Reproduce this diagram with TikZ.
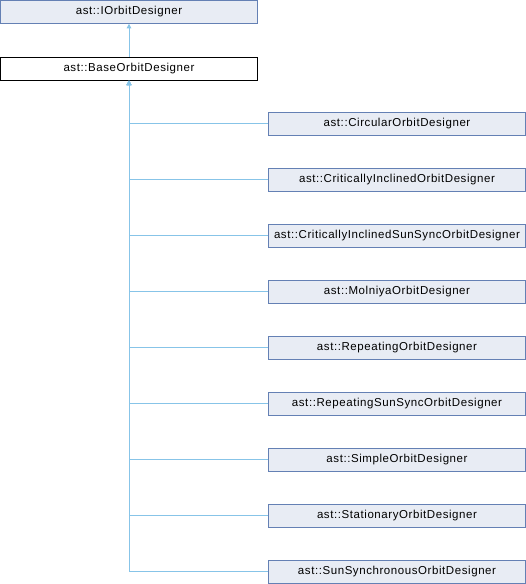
\documentclass[tikz,border=0pt]{standalone}
\usepackage{fontspec}
\setmainfont{Liberation Sans}[LetterSpace=5]
\usetikzlibrary{arrows.meta}
\definecolor{boxfill}{RGB}{232,236,244}
\definecolor{boxdraw}{RGB}{100,128,180}
\definecolor{edgecol}{RGB}{135,196,232}
\tikzset{
  cls/.style={draw=boxdraw, fill=boxfill, line width=1pt, minimum width=257pt, minimum height=23pt, inner sep=0pt, font=\fontsize{11.5}{13}\selectfont},
  basecls/.style={cls, draw=black, fill=white},
  edge/.style={draw=edgecol, line width=1pt, -{Triangle[width=4.5pt,length=4.5pt]}}
}
\begin{document}
\begin{tikzpicture}[x=1pt,y=-1pt]
\useasboundingbox (0,0) rectangle (526,584);
\node[cls] (top) at (129,11.75) {ast::IOrbitDesigner};
\node[basecls] (base) at (129,68.5) {ast::BaseOrbitDesigner};
\foreach \i/\t in {0/CircularOrbitDesigner,1/CriticallyInclinedOrbitDesigner,2/CriticallyInclinedSunSyncOrbitDesigner,3/MolniyaOrbitDesigner,4/RepeatingOrbitDesigner,5/RepeatingSunSyncOrbitDesigner,6/SimpleOrbitDesigner,7/StationaryOrbitDesigner,8/SunSynchronousOrbitDesigner}{
  \node[cls] (c\i) at (397,123.8+56*\i) {ast::\t};
}
\draw[edge] (base.north) -- (top.south);
\foreach \i in {0,...,8}{
  \draw[edge] (c\i.west) -| (base.south);
}
\end{tikzpicture}
\end{document}
